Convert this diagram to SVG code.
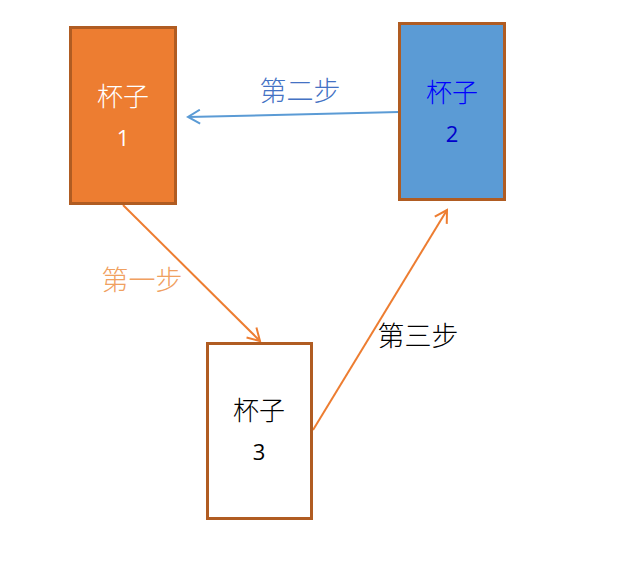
<svg xmlns="http://www.w3.org/2000/svg" width="622" height="577" viewBox="0 0 622 577">
<style>
.box{stroke:#b05c22;stroke-width:3}
.cn{font-family:"Noto Sans CJK SC","Noto Sans",sans-serif;font-size:26px;font-weight:300;text-anchor:middle}
.num{font-family:"Open Sans","Liberation Sans",sans-serif;font-size:22px;text-anchor:middle}
.lbl{font-family:"Noto Sans CJK SC","Noto Sans",sans-serif;font-size:27px;font-weight:300}
.conn{fill:none;stroke-width:2}
</style>
<defs>
<marker id="ao" markerWidth="16" markerHeight="16" refX="13" refY="8" orient="auto" markerUnits="userSpaceOnUse">
<path d="M1,1 L13,8 L1,15" fill="none" stroke="#ed7d31" stroke-width="2"/>
</marker>
<marker id="ab" markerWidth="16" markerHeight="16" refX="13" refY="8" orient="auto" markerUnits="userSpaceOnUse">
<path d="M1,1 L13,8 L1,15" fill="none" stroke="#5b9bd5" stroke-width="2"/>
</marker>
</defs>
<rect width="622" height="577" fill="#ffffff"/>
<g id="connectors">
<line class="conn" x1="399" y1="112" x2="188" y2="117" stroke="#5b9bd5" marker-end="url(#ab)"/>
<line class="conn" x1="123" y1="205" x2="260" y2="341" stroke="#ed7d31" marker-end="url(#ao)"/>
<line class="conn" x1="313" y1="430" x2="447" y2="210" stroke="#ed7d31" marker-end="url(#ao)"/>
<text class="lbl" x="300" y="101" text-anchor="middle" fill="#4472c4">第二步</text>
<text class="lbl" x="142" y="290" text-anchor="middle" fill="#f0a060">第一步</text>
<text class="lbl" x="418" y="346" text-anchor="middle" fill="#000000">第三步</text>
</g>
<g id="cup1">
<rect class="box" x="70.5" y="27.5" width="105" height="176" fill="#ed7d31"/>
<text class="cn" x="123" y="106" fill="#ffffff">杯子</text>
<text class="num" x="123" y="146" fill="#ffffff">1</text>
</g>
<g id="cup2">
<rect class="box" x="399.5" y="23.5" width="105" height="176" fill="#5b9bd5"/>
<text class="cn" x="452" y="102" fill="#0000ff">杯子</text>
<text class="num" x="452" y="142" fill="#0000cc">2</text>
</g>
<g id="cup3">
<rect class="box" x="207.5" y="343.5" width="104" height="175" fill="#ffffff"/>
<text class="cn" x="259" y="420" fill="#000000">杯子</text>
<text class="num" x="259" y="460" fill="#000000">3</text>
</g>
</svg>
